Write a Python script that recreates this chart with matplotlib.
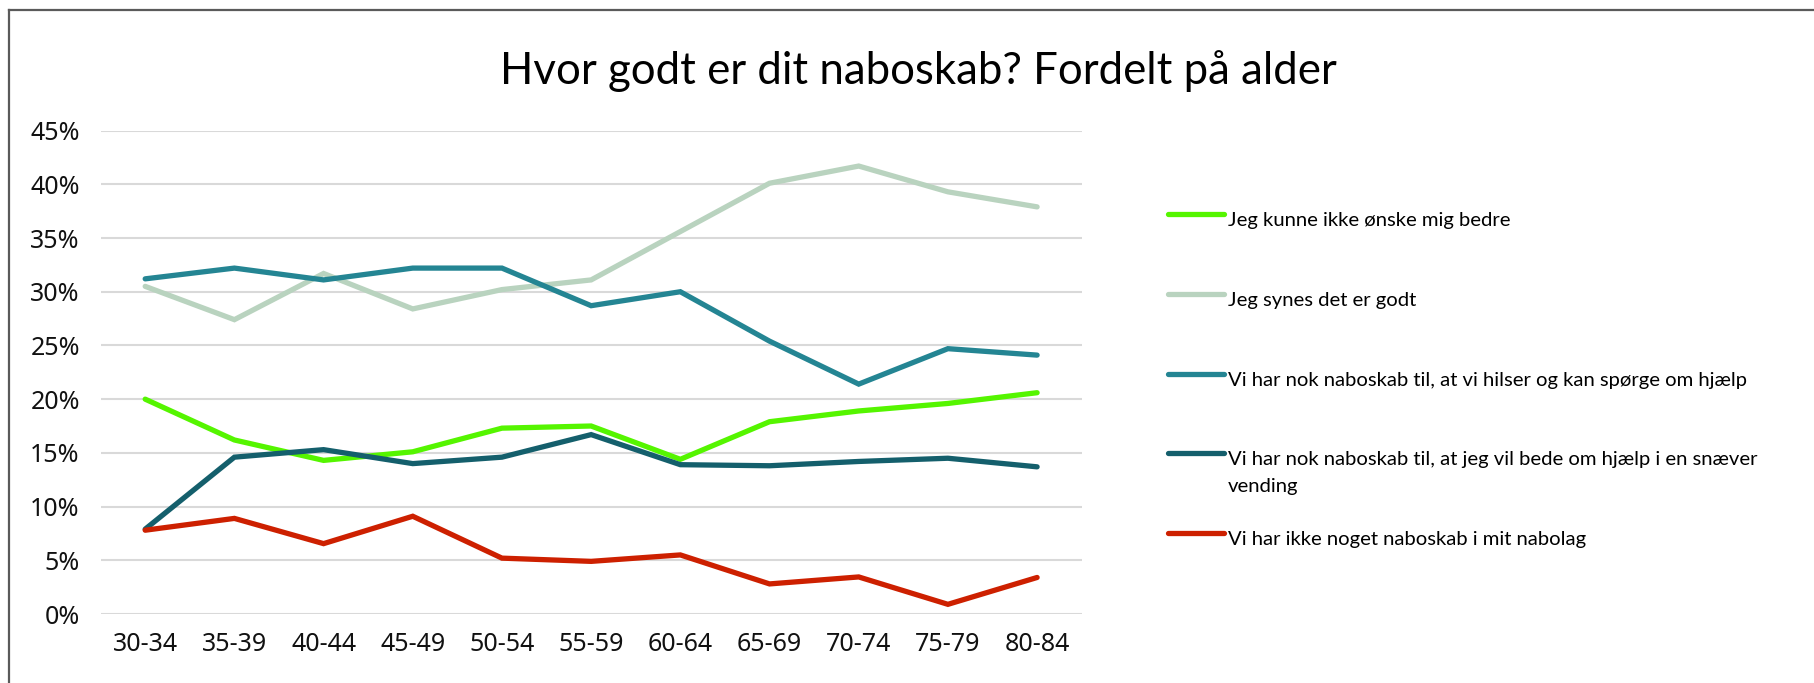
import matplotlib
matplotlib.use("Agg")
import matplotlib.pyplot as plt
from matplotlib.lines import Line2D
from matplotlib.ticker import PercentFormatter

# Data (percent)
ages = ["30-34", "35-39", "40-44", "45-49", "50-54", "55-59",
        "60-64", "65-69", "70-74", "75-79", "80-84"]
kunne_ikke_bedre = [20.0, 16.2, 14.3, 15.1, 17.3, 17.5, 14.4, 17.9, 18.9, 19.6, 20.6]
synes_godt = [30.5, 27.4, 31.7, 28.4, 30.2, 31.1, 35.6, 40.1, 41.7, 39.3, 37.9]
hilser = [31.2, 32.2, 31.1, 32.2, 32.2, 28.7, 30.0, 25.4, 21.4, 24.7, 24.1]
snaever = [7.9, 14.6, 15.3, 14.0, 14.6, 16.7, 13.9, 13.8, 14.2, 14.5, 13.7]
intet = [7.8, 8.9, 6.55, 9.1, 5.2, 4.9, 5.5, 2.8, 3.45, 0.9, 3.4]

labels = [
    "Jeg kunne ikke ønske mig bedre",
    "Jeg synes det er godt",
    "Vi har nok naboskab til, at vi hilser og kan spørge om hjælp",
    "Vi har nok naboskab til, at jeg vil bede om hjælp i en snæver\nvending",
    "Vi har ikke noget naboskab i mit nabolag",
]
colors = ["#55F500", "#B9D3BF", "#248593", "#145F6C", "#CD2000"]
series = [kunne_ikke_bedre, synes_godt, hilser, snaever, intet]

text_font = ["Lato", "DejaVu Sans"]
tick_font = ["Noto Sans", "DejaVu Sans"]

W, H = 1815, 683
fig = plt.figure(figsize=(W / 100, H / 100), dpi=100)
ax = fig.add_axes([100.6 / W, 1 - 614 / H, (1081.7 - 100.6) / W, (614 - 130.6) / H])

x = list(range(len(ages)))
for vals, c in zip(series, colors):
    ax.plot(x, vals, color=c, linewidth=3.8, solid_capstyle="round",
            solid_joinstyle="miter", clip_on=False)

ax.set_xlim(-0.5, len(ages) - 0.5)
ax.set_ylim(0, 45)
ax.set_yticks(range(0, 46, 5))
ax.yaxis.set_major_formatter(PercentFormatter(decimals=0))
ax.set_xticks(x)
ax.set_xticklabels(ages)
ax.grid(axis="y", color="#D9D9D9", linewidth=1.5)
ax.set_axisbelow(True)
for s in ax.spines.values():
    s.set_visible(False)
ax.tick_params(length=0, labelsize=18, colors="#111111")
ax.tick_params(axis="y", pad=15)
ax.tick_params(axis="x", pad=13)
for lab in ax.get_xticklabels() + ax.get_yticklabels():
    lab.set_family(tick_font)

# title
fig.text(918 / W, 1 - 84 / H, "Hvor godt er dit naboskab? Fordelt på alder",
         ha="center", va="baseline", fontsize=31.5, family=text_font, color="#000000")

# legend drawn by hand so the two-line entry keeps its handle on the first line
legend_y = [214.3, 294.0, 373.7, 453.3, 532.7]
line_px = 26.4
for ly, lab, c in zip(legend_y, labels, colors):
    fig.add_artist(Line2D([1168 / W, 1224 / W], [1 - ly / H, 1 - ly / H],
                          color=c, linewidth=3.8, solid_capstyle="round"))
    lines = lab.split("\n")
    for i, part in enumerate(lines):
        fig.text(1228 / W, 1 - (ly + 12 + i * line_px) / H, part, ha="left",
                 va="baseline", fontsize=14.6, family=text_font, color="#000000")

# outer frame (top and left edges)
fig.add_artist(Line2D([9 / W, 1], [1 - 10 / H, 1 - 10 / H], color="#5A5A5A", linewidth=1.6))
fig.add_artist(Line2D([9 / W, 9 / W], [0, 1 - 10 / H], color="#5A5A5A", linewidth=1.6))

fig.savefig("out.png", dpi=100)
